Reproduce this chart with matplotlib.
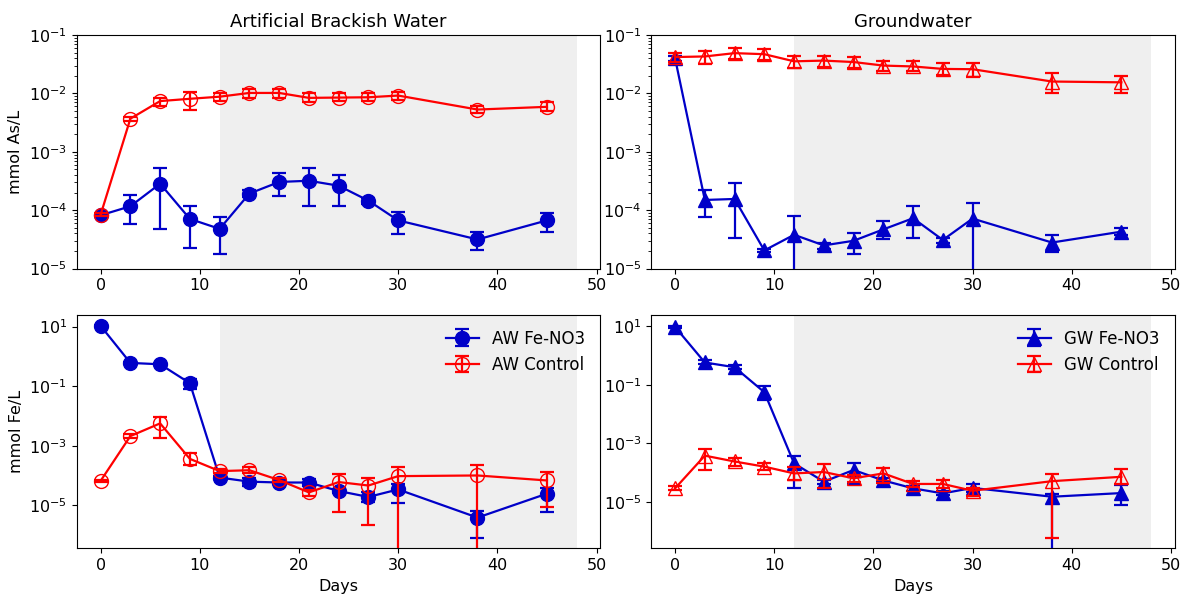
import matplotlib
matplotlib.use("Agg")
import matplotlib.pyplot as plt
import numpy as np

# sampling days
days = [0, 3, 6, 9, 12, 15, 18, 21, 24, 27, 30, 38, 45]

# ---- As, artificial brackish water (mmol/L) ----
aw_as_fe = [8.2e-5, 1.17e-4, 2.85e-4, 7.1e-5, 4.8e-5, 1.93e-4, 3.05e-4, 3.2e-4, 2.63e-4, 1.46e-4, 6.7e-5, 3.16e-5, 6.7e-5]
aw_as_fe_lo = [7.8e-5, 5.8e-5, 4.8e-5, 2.3e-5, 1.8e-5, 1.7e-4, 1.78e-4, 1.2e-4, 1.2e-4, 1.3e-4, 3.85e-5, 2.07e-5, 4.3e-5]
aw_as_fe_hi = [8.6e-5, 1.8e-4, 5.2e-4, 1.17e-4, 7.7e-5, 2.2e-4, 4.3e-4, 5.3e-4, 4.0e-4, 1.65e-4, 9.2e-5, 4.2e-5, 9.0e-5]
aw_as_ctl = [8.4e-5, 3.7e-3, 7.4e-3, 8.1e-3, 8.8e-3, 1.02e-2, 1.02e-2, 8.4e-3, 8.5e-3, 8.6e-3, 9.2e-3, 5.3e-3, 5.9e-3]
aw_as_ctl_lo = [8.0e-5, 3.4e-3, 6.2e-3, 5.3e-3, 7.4e-3, 8.3e-3, 8.3e-3, 7.2e-3, 7.3e-3, 7.3e-3, 7.8e-3, 4.6e-3, 5.0e-3]
aw_as_ctl_hi = [8.8e-5, 4.0e-3, 8.5e-3, 1.07e-2, 1.0e-2, 1.2e-2, 1.2e-2, 1.0e-2, 1.0e-2, 1.0e-2, 1.07e-2, 6.1e-3, 7.0e-3]

# ---- As, groundwater ----
gw_as_fe = [4.0e-2, 1.5e-4, 1.56e-4, 2.05e-5, 3.8e-5, 2.5e-5, 3.0e-5, 4.7e-5, 7.3e-5, 3.1e-5, 7.2e-5, 2.8e-5, 4.3e-5]
gw_as_fe_lo = [3.6e-2, 7.7e-5, 3.4e-5, 1.9e-5, 1e-9, 2.2e-5, 1.8e-5, 3.2e-5, 3.4e-5, 2.8e-5, 1e-9, 1.9e-5, 3.8e-5]
gw_as_fe_hi = [4.4e-2, 2.2e-4, 2.9e-4, 2.2e-5, 7.9e-5, 2.8e-5, 4.1e-5, 6.6e-5, 1.16e-4, 3.4e-5, 1.35e-4, 3.7e-5, 4.9e-5]
gw_as_ctl = [4.2e-2, 4.3e-2, 4.9e-2, 4.7e-2, 3.55e-2, 3.65e-2, 3.45e-2, 3.0e-2, 2.9e-2, 2.63e-2, 2.6e-2, 1.6e-2, 1.55e-2]
gw_as_ctl_lo = [3.4e-2, 3.2e-2, 3.9e-2, 3.7e-2, 2.7e-2, 2.8e-2, 2.7e-2, 2.4e-2, 2.4e-2, 2.1e-2, 1.9e-2, 1.0e-2, 1.0e-2]
gw_as_ctl_hi = [4.9e-2, 5.4e-2, 6.0e-2, 5.8e-2, 4.4e-2, 4.4e-2, 4.2e-2, 3.6e-2, 3.6e-2, 3.3e-2, 3.3e-2, 2.2e-2, 2.0e-2]

# ---- Fe, artificial brackish water ----
aw_fe_fe = [10.5, 0.6, 0.54, 0.125, 8.5e-5, 6.2e-5, 5.8e-5, 5.8e-5, 3.0e-5, 1.9e-5, 3.4e-5, 3.85e-6, 2.45e-5]
aw_fe_fe_lo = [9.5, 0.55, 0.5, 0.08, 7.5e-5, 4.6e-5, 5.0e-5, 4.4e-5, 2.6e-5, 1.3e-5, 1.15e-5, 8e-7, 5.8e-6]
aw_fe_fe_hi = [11.5, 0.65, 0.58, 0.17, 9.5e-5, 8.0e-5, 6.6e-5, 7.5e-5, 3.4e-5, 2.7e-5, 5.0e-5, 6.5e-6, 3.8e-5]
aw_fe_ctl = [6.6e-5, 2.1e-3, 5.6e-3, 3.6e-4, 1.4e-4, 1.5e-4, 7.0e-5, 2.7e-5, 6.0e-5, 4.6e-5, 9.5e-5, 1.0e-4, 6.8e-5]
aw_fe_ctl_lo = [6.0e-5, 1.8e-3, 1.8e-3, 2.2e-4, 1.2e-4, 1.2e-4, 6.2e-5, 2.1e-5, 5.8e-6, 2.1e-6, 1e-9, 1e-9, 8.8e-6]
aw_fe_ctl_hi = [7.2e-5, 2.4e-3, 9.3e-3, 5.5e-4, 1.6e-4, 1.9e-4, 8.0e-5, 3.3e-5, 1.1e-4, 8.3e-5, 1.9e-4, 2.3e-4, 1.26e-4]

# ---- Fe, groundwater ----
gw_fe_fe = [9.5, 0.58, 0.40, 0.056, 2.07e-4, 4.9e-5, 1.23e-4, 5.4e-5, 2.9e-5, 1.95e-5, 3.0e-5, 1.5e-5, 2.0e-5]
gw_fe_fe_lo = [8.5, 0.5, 0.35, 0.03, 3.0e-5, 4.2e-5, 4.0e-5, 4.6e-5, 2.3e-5, 1.7e-5, 2.1e-5, 1e-9, 7.6e-6]
gw_fe_fe_hi = [10.5, 0.68, 0.46, 0.09, 3.8e-4, 5.6e-5, 2.2e-4, 6.4e-5, 3.5e-5, 2.3e-5, 4.2e-5, 1.8e-5, 3.7e-5]
gw_fe_ctl = [2.9e-5, 3.8e-4, 2.4e-4, 1.6e-4, 9.4e-5, 1.05e-4, 6.4e-5, 9.4e-5, 4.1e-5, 4.1e-5, 2.4e-5, 5.1e-5, 7.2e-5]
gw_fe_ctl_lo = [2.5e-5, 1.23e-4, 1.7e-4, 1.2e-4, 5.8e-5, 3.0e-5, 4.6e-5, 4.4e-5, 3.2e-5, 3.0e-5, 1.6e-5, 5.9e-7, 4.1e-5]
gw_fe_ctl_hi = [3.4e-5, 6.4e-4, 3.2e-4, 2.2e-4, 1.5e-4, 1.9e-4, 8.2e-5, 1.45e-4, 5.0e-5, 5.5e-5, 3.1e-5, 9.3e-5, 1.3e-4]

col_fe = '#0000c8'
col_ctl = '#ff0000'

plt.rcParams['font.family'] = 'DejaVu Sans'
fig, axes = plt.subplots(2, 2, figsize=(11.82, 5.94), dpi=100)
plt.subplots_adjust(left=0.065, right=0.994, top=0.941, bottom=0.077,
                    wspace=0.097, hspace=0.197)


def yerr(vals, lo, hi):
    v = np.array(vals)
    return [v - np.array(lo), np.array(hi) - v]


def panel(ax, fe, fe_lo, fe_hi, ctl, ctl_lo, ctl_hi, marker, lab):
    ax.axvspan(12, 48, color='#efefef', lw=0, zorder=0)
    ax.errorbar(days, fe, yerr=yerr(fe, fe_lo, fe_hi), color=col_fe,
                marker=marker, ms=10, lw=1.6, capsize=5, capthick=1.6,
                mfc=col_fe, mec=col_fe, label=lab + ' Fe-NO3', zorder=3)
    ax.errorbar(days, ctl, yerr=yerr(ctl, ctl_lo, ctl_hi), color=col_ctl,
                marker=marker, ms=10, lw=1.6, capsize=5, capthick=1.6,
                mfc='none', mec=col_ctl, label=lab + ' Control', zorder=4)
    ax.set_yscale('log')
    ax.set_xlim(-2.4, 50.4)
    ax.set_xticks([0, 10, 20, 30, 40, 50])
    ax.tick_params(labelsize=11.5)


ax = axes[0, 0]
panel(ax, aw_as_fe, aw_as_fe_lo, aw_as_fe_hi, aw_as_ctl, aw_as_ctl_lo, aw_as_ctl_hi, 'o', 'AW')
ax.set_ylim(1e-5, 1e-1)
ax.set_ylabel('mmol As/L', fontsize=11.5)
ax.set_title('Artificial Brackish Water', fontsize=13)

ax = axes[0, 1]
panel(ax, gw_as_fe, gw_as_fe_lo, gw_as_fe_hi, gw_as_ctl, gw_as_ctl_lo, gw_as_ctl_hi, '^', 'GW')
ax.set_ylim(1e-5, 1e-1)
ax.set_title('Groundwater', fontsize=13)

ax = axes[1, 0]
panel(ax, aw_fe_fe, aw_fe_fe_lo, aw_fe_fe_hi, aw_fe_ctl, aw_fe_ctl_lo, aw_fe_ctl_hi, 'o', 'AW')
ax.set_ylim(3.6e-7, 25)
ax.set_yticks([1e1, 1e-1, 1e-3, 1e-5])
ax.set_ylabel('mmol Fe/L', fontsize=11.5)
ax.set_xlabel('Days', fontsize=11.5)
ax.legend(loc='upper right', frameon=False, fontsize=12)

ax = axes[1, 1]
panel(ax, gw_fe_fe, gw_fe_fe_lo, gw_fe_fe_hi, gw_fe_ctl, gw_fe_ctl_lo, gw_fe_ctl_hi, '^', 'GW')
ax.set_ylim(2.6e-7, 25)
ax.set_yticks([1e1, 1e-1, 1e-3, 1e-5])
ax.set_xlabel('Days', fontsize=11.5)
ax.legend(loc='upper right', frameon=False, fontsize=12)

plt.savefig('out.png', dpi=100, facecolor='white')
